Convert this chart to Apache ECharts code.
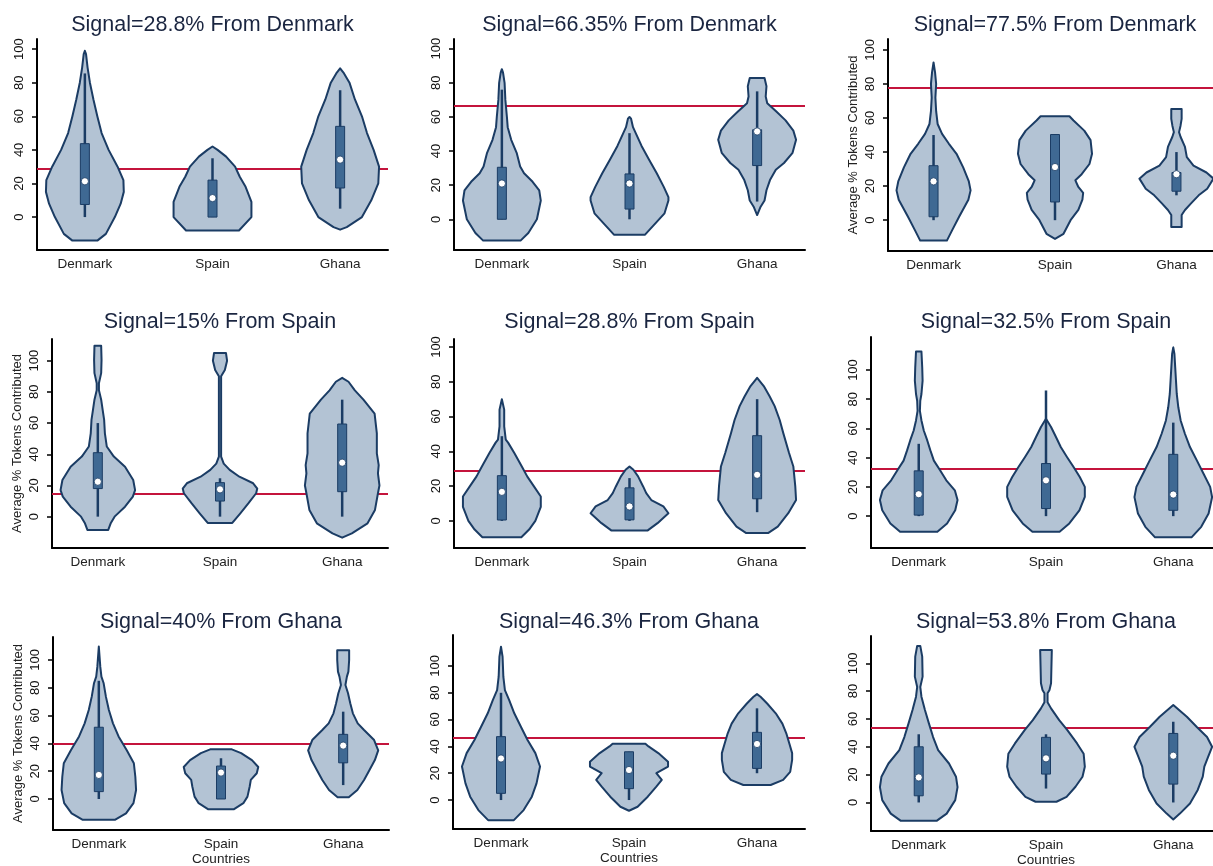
<!DOCTYPE html>
<html>
<head>
<meta charset="utf-8">
<script src="https://cdn.jsdelivr.net/npm/echarts@6/dist/echarts.min.js"></script>
<style>html,body{margin:0;padding:0;background:#fff;}#chart{width:1213px;height:866px;}</style>
</head>
<body>
<div id="chart"></div>
<script>
// ---------------- DATA ----------------
const categories = ['Denmark', 'Spain', 'Ghana'];
const yTicks = [0, 20, 40, 60, 80, 100];
const titles = ['Signal=28.8% From Denmark', 'Signal=66.35% From Denmark', 'Signal=77.5% From Denmark',
  'Signal=15% From Spain', 'Signal=28.8% From Spain', 'Signal=32.5% From Spain',
  'Signal=40% From Ghana', 'Signal=46.3% From Ghana', 'Signal=53.8% From Ghana'];
const signals = [28.8, 66.35, 77.5, 15, 28.8, 32.5, 40, 46.3, 53.8];
const yAxisTitle = 'Average % Tokens Contributed';
const xAxisTitle = 'Countries';

// violin outlines: [value, relative density half-width]
const p1Denmark = [[-14,0.32],[-10,0.54],[0,0.77],[8,0.92],[15,1],[22,0.99],[30,0.84],[40,0.61],[50,0.43],[60,0.32],[70,0.22],[80,0.13],[89,0.07],[97,0.03],[99,0]];
const p1Spain = [[-8,0.68],[0,1.0],[9,1.0],[18,0.85],[24,0.7],[30,0.58],[36,0.35],[40,0.13],[42,0]];
const p1Ghana = [[-7.5,0],[-6,0.17],[0,0.56],[10,0.8],[20,0.98],[30,1.0],[40,0.86],[50,0.69],[60,0.56],[70,0.38],[80,0.24],[85.5,0.1],[88.5,0]];

const p2Denmark = [[-12.5,0.48],[-8,0.68],[0,0.9],[11,1.0],[17,0.96],[22,0.79],[27,0.57],[31,0.47],[39,0.38],[46.6,0.24],[54,0.15],[60,0.13],[70,0.09],[80,0.07],[86,0.03],[88,0]];
const p2Spain = [[-9,0.4],[-4,0.6],[3.5,0.9],[11,1.0],[13,1.0],[19,0.88],[27,0.7],[35,0.5],[43,0.31],[50.5,0.16],[54,0.09],[59,0.04],[60,0]];
const p2Ghana = [[2.5,0],[7.4,0.09],[11,0.19],[17,0.24],[23,0.33],[29,0.48],[33,0.69],[39,0.91],[46.6,1.0],[52,0.93],[58,0.73],[63,0.5],[68,0.26],[72,0.22],[78,0.24],[82.8,0.19]];

const p3Denmark = [[-12,0.36],[-6,0.5],[2,0.69],[12,0.94],[17.5,1.0],[23,0.95],[31,0.8],[39,0.62],[45,0.41],[50.7,0.23],[56.5,0.11],[64,0.07],[72,0.05],[80,0.07],[87,0.04],[92.6,0]];
const p3Spain = [[-11,0],[-8,0.23],[0,0.42],[6,0.63],[12,0.74],[16,0.76],[19.5,0.63],[23.4,0.55],[27,0.72],[33,0.93],[39,1.0],[47,0.96],[52.6,0.79],[58.5,0.5],[61,0.39]];
const p3Ghana = [[-4,0.14],[3,0.14],[6,0.23],[10,0.4],[14.6,0.6],[18.5,0.83],[24.4,1.0],[28,0.81],[32,0.46],[37,0.28],[43,0.23],[49,0.11],[51.7,0.07],[55.5,0.11],[59.5,0.14],[65.3,0.14]];

const p4Denmark = [[-8.5,0.28],[-4,0.35],[0,0.45],[6.4,0.73],[12.8,0.94],[17,1.0],[23.5,0.95],[32,0.73],[38.5,0.43],[45,0.24],[53.4,0.19],[62,0.17],[68.4,0.13],[75,0.09],[81,0.03],[85.5,0.03],[92,0.09],[100.4,0.1],[109.6,0.09]];
const p4Spain = [[-4,0.33],[2,0.54],[8.5,0.76],[15,0.97],[18,1.0],[21.4,0.89],[25.6,0.52],[30,0.26],[34,0.1],[38.5,0.03],[75,0.03],[90,0.03],[94,0.13],[100,0.19],[105,0.16]];
const p4Ghana = [[-13.5,0],[-10.7,0.26],[-4.3,0.68],[4.3,0.88],[15,0.96],[20,1.0],[27.8,0.96],[33,0.98],[40.6,0.93],[53.4,0.93],[66,0.87],[75,0.57],[81,0.34],[86.5,0.17],[89,0]];

const p5Denmark = [[-9.4,0.5],[-5,0.7],[0,0.86],[8,1.0],[14,1.0],[20,0.82],[25.6,0.65],[31,0.52],[39,0.32],[45,0.16],[46.7,0.1],[54.4,0.06],[64,0.06],[70,0]];
const p5Spain = [[-5.6,0.46],[-1.3,0.72],[4.4,1.0],[8.3,0.87],[12,0.56],[16,0.43],[19.8,0.35],[25.6,0.22],[29.4,0.1],[31.3,0]];
const p5Ghana = [[-7,0.28],[-3.3,0.53],[4.4,0.8],[12,1.0],[19.8,0.98],[31.3,0.93],[39,0.82],[50.6,0.67],[58,0.58],[66,0.45],[71.7,0.32],[77.5,0.17],[82.3,0]];

const p6Denmark = [[-10.7,0.48],[-5,0.73],[4,0.94],[11,1.0],[17.7,0.93],[24.5,0.71],[31.4,0.55],[38,0.39],[45,0.3],[51.8,0.22],[58.6,0.13],[65.5,0.07],[72,0.03],[79,0.04],[83.6,0.07],[92.7,0.1],[101.8,0.09],[112.7,0.07]];
const p6Spain = [[-10.7,0.35],[-5,0.6],[4,0.86],[13.2,1.0],[20,1.0],[26.8,0.87],[33.6,0.71],[40.5,0.54],[47.3,0.38],[54,0.26],[61,0.13],[66.6,0]];
const p6Ghana = [[-14.5,0.47],[-7.3,0.72],[1.8,0.91],[13,1.0],[20,0.95],[29,0.78],[38,0.61],[47.3,0.43],[56.4,0.3],[65.5,0.19],[74.5,0.13],[83.6,0.09],[92.7,0.07],[101.8,0.05],[111,0.03],[115.5,0]];

const p7Denmark = [[-15,0.43],[-10.3,0.73],[-3,0.93],[6.5,1.0],[16,0.98],[25.7,0.94],[35,0.75],[45,0.53],[54.4,0.38],[64,0.27],[73.6,0.19],[83.2,0.13],[88,0.07],[95,0.04],[109.6,0]];
const p7Spain = [[-7.4,0.34],[-3,0.6],[1.7,0.71],[9,0.77],[13.7,0.8],[18.5,0.96],[23,1.0],[28,0.83],[33,0.54],[35.7,0.29]];
const p7Ghana = [[1.2,0.15],[6.5,0.38],[13.7,0.56],[21,0.71],[28,0.85],[35,0.94],[42.4,0.83],[49.6,0.56],[54.4,0.39],[61.6,0.26],[68.8,0.19],[76,0.13],[82,0.06],[88,0.1],[91.6,0.14],[100,0.16],[107,0.16]];

const p8Denmark = [[-15,0.33],[-7.5,0.58],[2.5,0.79],[12.4,0.91],[25,1.0],[35,0.88],[44.8,0.68],[54.7,0.51],[64.7,0.34],[74.6,0.21],[82,0.1],[92,0.06],[107,0.04],[114.4,0]];
const p8Spain = [[-8,0],[-5,0.22],[2.5,0.48],[10,0.7],[15,0.84],[20,0.7],[25,1.0],[28.6,1.0],[35,0.75],[40,0.5],[42,0.42]];
const p8Ghana = [[11.2,0.35],[15,0.67],[21,0.85],[30,0.9],[35,0.9],[42,0.83],[49.8,0.75],[57,0.65],[64.7,0.48],[72,0.26],[77,0.09],[79,0]];

const p9Denmark = [[-13.2,0.46],[-8,0.72],[1.7,0.94],[11,1.0],[18.5,0.96],[28,0.78],[37.6,0.5],[47,0.37],[57,0.26],[66.4,0.16],[76,0.07],[83,0.04],[90.4,0.1],[104.8,0.09],[112.5,0.04]];
const p9Spain = [[0.5,0.27],[4,0.53],[11.3,0.76],[18.5,0.94],[25.7,1.0],[35,0.97],[42.4,0.8],[52,0.55],[59.2,0.34],[67.6,0.13],[72,0.04],[78.4,0.04],[80.8,0.09],[85.6,0.13],[109.6,0.15]];
const p9Ghana = [[-12.2,0],[-8,0.17],[-0.7,0.43],[9,0.63],[18.5,0.76],[25.7,0.8],[33,0.9],[40,1.0],[47,0.87],[54.4,0.6],[61.6,0.35],[70,0]];

// box stats: [lower whisker, q1, median, q3, upper whisker] for Denmark, Spain, Ghana
const p1Box = [[0,7.5,21.3,43.7,85.5],[0,0,11.3,22,35],[5,17.3,34.2,54,75.5]];
const p2Box = [[0,0,21,30.5,76],[0,6,21,26.6,50.5],[10.4,31.5,51.5,52.5,75]];
const p3Box = [[0,2,22.8,32,50],[0,10.7,31.2,50.3,50.3],[14.6,17,27,28,40]];
const p4Box = [[0,18,22.4,41,60],[0,10,17.5,21.8,24.6],[0,16,34.6,59.4,75]];
const p5Box = [[0,0.5,16.7,26,48.7],[0,0.6,8.3,19,24.6],[5,12.7,26.5,49,70]];
const p6Box = [[0,0.7,15,31,49.5],[0,5.2,24.5,36,86],[0,4,14.8,42.3,64]];
const p7Box = [[0,5.3,17.3,51.6,85],[0,0,19,23.7,29.3],[10,26,38.4,46.5,62.8]];
const p8Box = [[0,5,31,47.3,80],[0,8.5,22.4,36,36],[20,23.6,41.8,50.5,68.4]];
const p9Box = [[0,4.8,18,40,49],[10,20.4,31.7,46.8,49],[0,13.2,33.6,49.6,58]];

const shapes = [[p1Denmark,p1Spain,p1Ghana],[p2Denmark,p2Spain,p2Ghana],[p3Denmark,p3Spain,p3Ghana],
  [p4Denmark,p4Spain,p4Ghana],[p5Denmark,p5Spain,p5Ghana],[p6Denmark,p6Spain,p6Ghana],
  [p7Denmark,p7Spain,p7Ghana],[p8Denmark,p8Spain,p8Ghana],[p9Denmark,p9Spain,p9Ghana]];
const boxes = [p1Box,p2Box,p3Box,p4Box,p5Box,p6Box,p7Box,p8Box,p9Box];

// ---------------- LAYOUT / STYLE ----------------
const layouts = [
  {left:37,  top:39,  width:351, height:211, ymin:-19.6, ymax:106,   yName:false, xName:false, titleY:25},
  {left:454, top:39,  width:351, height:211, ymin:-18,   ymax:105.7, yName:false, xName:false, titleY:25},
  {left:888, top:39,  width:334, height:212, ymin:-18.1, ymax:106.4, yName:true,  xName:false, titleY:25},
  {left:52,  top:339, width:336, height:209, ymin:-20.1, ymax:113.9, yName:true,  xName:false, titleY:322},
  {left:454, top:339, width:351, height:209, ymin:-15.6, ymax:104.6, yName:false, xName:false, titleY:322},
  {left:871, top:337, width:350, height:211, ymin:-21.8, ymax:122.6, yName:false, xName:false, titleY:322},
  {left:53,  top:637, width:336, height:193, ymin:-22.3, ymax:116.5, yName:true,  xName:true,  titleY:622},
  {left:453, top:635, width:352, height:194, ymin:-21.6, ymax:123.1, yName:false, xName:true,  titleY:622},
  {left:871, top:636, width:350, height:195, ymin:-20.5, ymax:119.6, yName:false, xName:true,  titleY:622}
];
const FONT = '"Liberation Sans", Arial, Helvetica, sans-serif';
const HW = 0.305;           // max violin half-width in category units
const VIOLIN_FILL = '#b3c3d4';
const NAVY = '#1b3c64';
const BOX_FILL = '#3f6993';
const RED = '#c4143c';

const grids = [], xAxes = [], yAxes = [], series = [], graphics = [];
layouts.forEach((L, p) => {
  grids.push({left:L.left, top:L.top, width:L.width, height:L.height, containLabel:false, outerBoundsMode:'none'});
  xAxes.push({
    type:'value', gridIndex:p, min:0.625, max:3.375,
    name: L.xName ? xAxisTitle : '', nameLocation:'middle', nameGap:22,
    nameTextStyle:{fontFamily:FONT, fontSize:13.5, color:'#222'},
    axisLine:{show:true, onZero:false, lineStyle:{color:'#000', width:2}},
    axisTick:{show:false},
    splitLine:{show:false},
    axisLabel:{customValues:[1,2,3], formatter:(v)=>categories[Math.round(v)-1] || '',
      fontFamily:FONT, fontSize:13.5, color:'#222', margin:7}
  });
  yAxes.push({
    type:'value', gridIndex:p, min:L.ymin, max:L.ymax,
    name: L.yName ? yAxisTitle : '', nameLocation:'middle', nameGap:28, nameRotate:90,
    nameTextStyle:{fontFamily:FONT, fontSize:13, color:'#222'},
    axisLine:{show:true, onZero:false, lineStyle:{color:'#000', width:2}},
    axisTick:{show:true, customValues:yTicks, length:5, lineStyle:{color:'#000', width:1.5}},
    splitLine:{show:false},
    axisLabel:{customValues:yTicks, rotate:90, fontFamily:FONT, fontSize:13, color:'#111', margin:11}
  });
  graphics.push({type:'text', x:L.left + L.width/2, y:L.titleY, silent:true,
    style:{text:titles[p], font:'21.5px ' + FONT, fill:'#1a2540', align:'center', verticalAlign:'middle'}});
  // signal line
  series.push({type:'line', xAxisIndex:p, yAxisIndex:p, data:[], silent:true,
    markLine:{silent:true, symbol:['none','none'], label:{show:false},
      lineStyle:{color:RED, width:2, type:'solid'}, data:[{yAxis:signals[p]}]}});
  // violins
  series.push({
    type:'custom', xAxisIndex:p, yAxisIndex:p, z:10, silent:true,
    data: categories.map((c, i) => [i + 1, boxes[p][i][2]]),
    renderItem: function (params, api) {
      const ci = api.value(0);
      const shape = shapes[p][ci - 1];
      const b = boxes[p][ci - 1];
      const pts = [];
      for (let k = 0; k < shape.length; k++) pts.push(api.coord([ci + shape[k][1] * HW, shape[k][0]]));
      for (let k = shape.length - 1; k >= 0; k--) pts.push(api.coord([ci - shape[k][1] * HW, shape[k][0]]));
      const lo = api.coord([ci, b[0]]), q1 = api.coord([ci, b[1]]), md = api.coord([ci, b[2]]),
            q3 = api.coord([ci, b[3]]), hi = api.coord([ci, b[4]]);
      return {type:'group', children:[
        {type:'polygon', shape:{points:pts}, style:{fill:VIOLIN_FILL, stroke:NAVY, lineWidth:2, lineJoin:'round'}},
        {type:'line', shape:{x1:lo[0], y1:lo[1], x2:hi[0], y2:hi[1]}, style:{stroke:NAVY, lineWidth:2.5}},
        {type:'rect', shape:{x:q3[0]-4.5, y:q3[1], width:9, height:Math.max(q1[1]-q3[1], 1)},
          style:{fill:BOX_FILL, stroke:NAVY, lineWidth:1}},
        {type:'circle', shape:{cx:md[0], cy:md[1], r:3.6}, style:{fill:'#fff', stroke:NAVY, lineWidth:0.8}}
      ]};
    }
  });
});

const chart = echarts.init(document.getElementById('chart'), null, {renderer:'canvas'});
chart.setOption({
  animation:false,
  backgroundColor:'#fff',
  grid:grids, xAxis:xAxes, yAxis:yAxes, series:series, graphic:graphics
});
</script>
</body>
</html>
